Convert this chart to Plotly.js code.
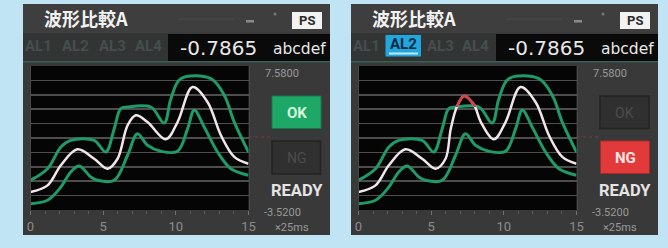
<!DOCTYPE html>
<html>
<head>
<meta charset="utf-8">
<script src="https://cdn.plot.ly/plotly-3.0.1.min.js"></script>
<style>html,body{margin:0;padding:0;background:#c0e4f4;}#chart{width:668px;height:248px;}</style>
</head>
<body>
<div id="chart"></div>
<script>
// ---- data (x in units of 25 ms) ----
const titleText = '波形比較A';
const tabLabels = ['AL1', 'AL2', 'AL3', 'AL4'];
const valueText = '-0.7865';
const unitText = 'abcdef';
const yMaxLabel = '7.5800';
const yMinLabel = '-3.5200';
const yMax = 7.58;
const yMin = -3.52;
const xUnitLabel = '×25ms';
const xTickVals = [0, 5, 10, 15];
const xTickText = ['0', '5', '10', '15'];

// measured waveform (left screen, OK)
const refX = [0, 1.17, 2.09, 3.23, 4.38, 5.30, 5.99, 6.68, 7.25, 8.05, 9.31, 10.12, 11.15, 12.18, 13.10, 14.02, 15];
const refY = [-2.13, -1.62, -0.07, 1.16, 0.43, -0.34, 0.43, 3.01, 3.78, 3.26, 1.93, 3.26, 5.96, 4.81, 2.24, 0.57, 0.05];

// measured waveform (right screen, NG)
const ngX = [0, 1.17, 2.09, 3.23, 4.38, 5.30, 5.99, 6.35, 6.81, 7.27, 7.96, 8.42, 9.31, 10.12, 11.15, 12.18, 13.10, 14.02, 15];
const ngY = [-2.13, -1.62, -0.07, 1.16, 0.43, -0.34, 0.43, 2.75, 4.55, 5.27, 4.55, 3.26, 1.93, 3.26, 5.96, 4.81, 2.24, 0.57, 0.05];
// upper limit level in the failing region (NG part drawn red above it)
const failLevel = 4.42;
const failXRange = [5.5, 9.0];

// upper limit envelope
const upX = [0, 1.17, 2.09, 2.77, 4.38, 5.18, 5.76, 6.21, 6.68, 8.28, 9.20, 9.66, 10.34, 12.41, 13.33, 14.02, 15];
const upY = [-1.23, -0.34, 1.34, 1.85, 1.85, 0.95, 2.75, 4.29, 4.42, 4.42, 3.19, 5.06, 6.60, 6.60, 5.32, 3.26, 0.95];

// lower limit envelope
const loX = [0, 1.17, 2.09, 2.77, 3.35, 4.15, 4.61, 5.76, 6.68, 7.36, 8.05, 8.97, 10.12, 10.81, 11.27, 11.95, 12.87, 13.79, 15];
const loY = [-3.03, -2.77, -1.75, -0.59, -0.13, -0.98, -1.23, -1.23, 0.70, 2.36, 1.47, 1.01, 1.01, 2.75, 4.17, 2.88, 0.95, -0.34, -0.84];

// ---- helpers ----
const W = 668, H = 248;
const P = px => px / W;
const Q = py => 1 - py / H;
const GREEN = '#1f9a69', WHITE = '#f1e6ea', RED = '#dc3a40';
const FONT = 'Roboto, "Noto Sans", sans-serif';
const PTOP = 66, PBOT = 210;

function rect(x0, y0, x1, y1, fill, line) {
  return {type: 'rect', xref: 'paper', yref: 'paper', x0: P(x0), x1: P(x1), y0: Q(y1), y1: Q(y0),
          fillcolor: fill, line: line || {width: 0}, layer: 'below'};
}
function txt(x, y, text, size, color, opts) {
  return Object.assign({xref: 'paper', yref: 'paper', x: P(x), y: Q(y), text: text, showarrow: false,
          xanchor: 'center', yanchor: 'middle', font: {family: FONT, size: size, color: color}}, opts || {});
}

const shapes = [];
const annotations = [];

function panel(off, state) {
  // frame
  shapes.push(rect(off + 23, 4, off + 330, 235, '#393939'));
  shapes.push(rect(off + 23, 4, off + 330, 33, '#3e3e3e'));
  shapes.push(rect(off + 23, 33, off + 168, 61, '#333535'));
  shapes.push(rect(off + 168, 34, off + 330, 61, '#0a0a0a'));
  shapes.push(rect(off + 23, 61, off + 330, 62.5, '#365f55'));
  // plot screen
  shapes.push(rect(off + 30.5, PTOP, off + 248.5, PBOT, '#050505'));
  // title bar widgets
  shapes.push(rect(off + 178, 18.5, off + 234, 19.5, '#4a4a4a'));
  shapes.push(rect(off + 246, 20, off + 254, 22.5, '#8a8a8a'));
  shapes.push({type: 'circle', xref: 'paper', yref: 'paper', x0: P(off + 273.5), x1: P(off + 276.5), y0: Q(15.5), y1: Q(12.5),
               fillcolor: '#7a7a7a', line: {width: 0}, layer: 'below'});
  shapes.push(rect(off + 292, 12, off + 322, 29, '#f2f2f2'));
  annotations.push(txt(off + 307, 20.5, '<b>PS</b>', 13, '#2a2a2a'));
  annotations.push(txt(off + 86, 18, '<b>' + titleText + '</b>', 18, '#f2f2f2',
                       {font: {family: '"Noto Sans CJK JP", sans-serif', size: 18, color: '#f2f2f2'}}));
  // tabs
  const tabC = [38, 75, 112, 148];
  tabLabels.forEach((t, i) => {
    if (state === 'ng' && i === 1) {
      shapes.push(rect(off + 57.5, 35, off + 93, 56.5, '#22a6de'));
      shapes.push(rect(off + 61, 52.5, off + 90, 54.5, '#bfeaff'));
      annotations.push(txt(off + 75.2, 44, '<b>' + t + '</b>', 15, '#0b2c44'));
    } else {
      annotations.push(txt(off + tabC[i], 46, '<b>' + t + '</b>', 15, '#454d4d'));
    }
  });
  // value readout
  annotations.push(txt(off + 218, 47.5, valueText, 20, '#e8e8e8', {font: {family: '"DejaVu Sans", sans-serif', size: 20, color: '#e8e8e8'}}));
  annotations.push(txt(off + 299, 48.5, unitText, 15.5, '#e8e8e8', {font: {family: '"DejaVu Sans", sans-serif', size: 15.5, color: '#e8e8e8'}}));
  // scale labels
  annotations.push(txt(off + 282, 73, yMaxLabel, 11, '#9a9a9a'));
  annotations.push(txt(off + 282, 212, yMinLabel, 11, '#9a9a9a'));
  annotations.push(txt(off + 292, 227, xUnitLabel, 11, '#9a9a9a'));
  // trigger marker
  shapes.push({type: 'line', xref: 'paper', yref: 'paper', x0: P(off + 249), x1: P(off + 272), y0: Q(137), y1: Q(137),
               line: {color: '#7a3c3c', width: 1, dash: 'dot'}, layer: 'below'});
  // judgement buttons
  if (state === 'ok') {
    shapes.push(rect(off + 272, 96, off + 321, 128.5, '#1ea867', {color: '#157a4a', width: 1}));
    annotations.push(txt(off + 296.5, 112.5, '<b>OK</b>', 15, '#d4f6df'));
    shapes.push(rect(off + 272, 141, off + 320.5, 174, '#303030', {color: '#232323', width: 1.5}));
    annotations.push(txt(off + 296.5, 157.5, 'NG', 14, '#4c4c4c'));
  } else {
    shapes.push(rect(off + 272, 96, off + 321, 128.5, '#303030', {color: '#232323', width: 1.5}));
    annotations.push(txt(off + 296.5, 112.5, 'OK', 14, '#4c4c4c'));
    shapes.push(rect(off + 272.5, 141, off + 321.5, 173.5, '#e23a3b', {color: '#a82828', width: 1}));
    annotations.push(txt(off + 297, 157.5, '<b>NG</b>', 15, '#ffe6e6'));
  }
  annotations.push(txt(off + 297, 190, '<b>READY</b>', 16.5, '#e4e4e4'));
}

panel(0, 'ok');
panel(328, 'ng');

function tr(x, y, color, width, ax) {
  return {x: x, y: y, type: 'scatter', mode: 'lines', xaxis: ax[0], yaxis: ax[1], hoverinfo: 'skip',
          line: {color: color, width: width, shape: 'spline', smoothing: 1}};
}
const A1 = ['x', 'y'], A2 = ['x2', 'y2'], A3 = ['x3', 'y3'];
const data = [
  tr(upX, upY, GREEN, 3, A1), tr(loX, loY, GREEN, 3, A1), tr(refX, refY, WHITE, 2.5, A1),
  tr(upX, upY, GREEN, 3, A2), tr(loX, loY, GREEN, 3, A2), tr(ngX, ngY, WHITE, 2.5, A2),
  // same NG waveform, shown in red only where it passes above the limit (clipped by subplot 3)
  tr(ngX, ngY, RED, 2.5, A3)
];

function xax(d) {
  return {domain: d, range: [0, 15], showgrid: false, zeroline: false, showline: false,
          tickvals: xTickVals, ticktext: xTickText, ticks: 'outside', ticklen: 4, tickcolor: '#707070', tickwidth: 1,
          tickfont: {family: FONT, size: 13, color: '#8c8c8c'},
          minor: {dtick: 1, ticks: 'outside', ticklen: 2.5, tickcolor: '#5c5c5c', showgrid: false}, fixedrange: true};
}
function yax(anchor) {
  return {domain: [Q(PBOT), Q(PTOP)], range: [yMin, yMax], tick0: yMin, dtick: (yMax - yMin) / 10,
          showgrid: true, gridcolor: '#4e4e4e', gridwidth: 1.5, zeroline: false, showticklabels: false, ticks: '',
          showline: true, mirror: true, linecolor: '#474747', linewidth: 1, anchor: anchor, fixedrange: true};
}
// clip window for the red over-limit part (same scale as yaxis2, top part only)
const pxPerUnitY = (PBOT - PTOP) / (yMax - yMin);
const failPy = PTOP + (yMax - failLevel) * pxPerUnitY;
const pxPerUnitX = 218 / 15;

const layout = {
  width: W, height: H, margin: {l: 0, r: 0, t: 0, b: 0},
  paper_bgcolor: '#c0e4f4', plot_bgcolor: 'rgba(0,0,0,0)', showlegend: false,
  xaxis: Object.assign(xax([P(30.5), P(248.5)]), {anchor: 'y'}),
  yaxis: yax('x'),
  xaxis2: Object.assign(xax([P(358.5), P(576.5)]), {anchor: 'y2'}),
  yaxis2: yax('x2'),
  xaxis3: {domain: [P(358.5 + failXRange[0] * pxPerUnitX), P(358.5 + failXRange[1] * pxPerUnitX)], range: failXRange,
           visible: false, showgrid: false, zeroline: false, anchor: 'y3', fixedrange: true},
  yaxis3: {domain: [Q(failPy), Q(PTOP)], range: [failLevel, yMax], visible: false, showgrid: false, zeroline: false,
           anchor: 'x3', fixedrange: true},
  shapes: shapes, annotations: annotations
};

Plotly.newPlot('chart', data, layout, {staticPlot: true, displayModeBar: false});
</script>
</body>
</html>
